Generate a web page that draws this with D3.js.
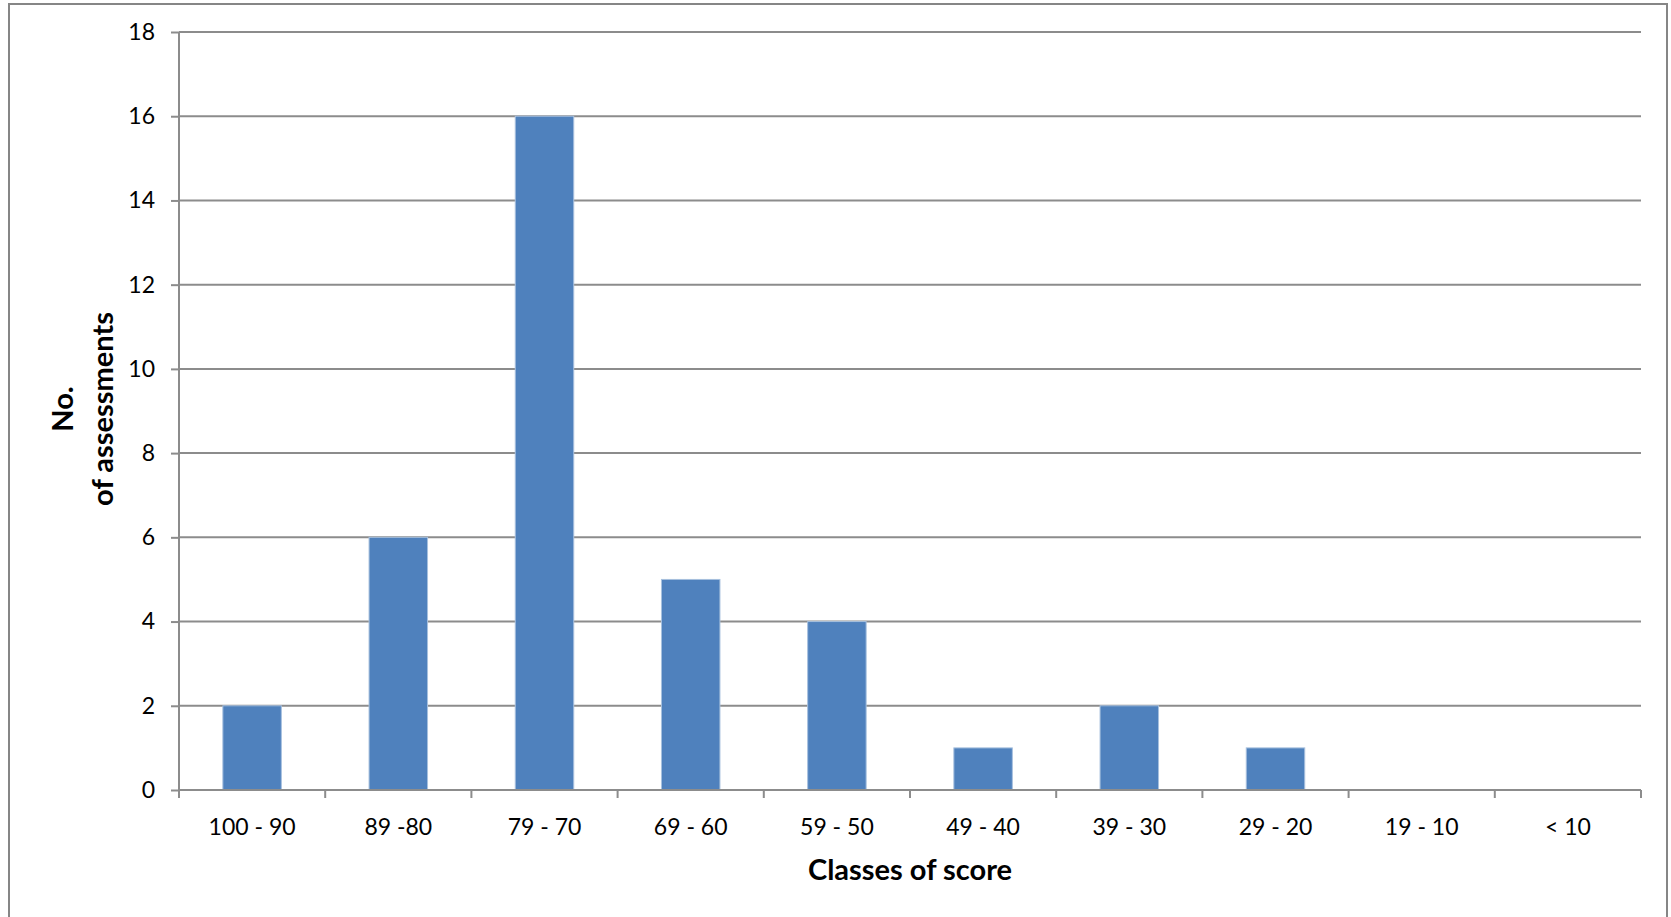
<!DOCTYPE html>
<html>
<head>
<meta charset="utf-8">
<script src="https://cdn.jsdelivr.net/npm/d3@7"></script>
<style>
  html, body { margin: 0; padding: 0; background: #fff; }
  svg { display: block; }
  text { font-family: Lato, "Open Sans", sans-serif; fill: #000; }
</style>
</head>
<body>
<svg id="chart" width="1671" height="917"></svg>
<script>
const categories = ["100 - 90", "89 -80", "79 - 70", "69 - 60", "59 - 50", "49 - 40", "39 - 30", "29 - 20", "19 - 10", "< 10"];
const values = [2, 6, 16, 5, 4, 1, 2, 1, 0, 0];
const yTicks = [0, 2, 4, 6, 8, 10, 12, 14, 16, 18];
const xTitle = "Classes of score";
const yTitleLines = ["No.", "of assessments"];

const svg = d3.select("#chart");
const W = 1671, H = 917;
const m = { left: 179, right: 1641, top: 32, bottom: 790 };

// outer frame
svg.append("rect")
  .attr("x", 9).attr("y", 4)
  .attr("width", 1667 - 9).attr("height", H + 10)
  .attr("fill", "#fff").attr("stroke", "#868686").attr("stroke-width", 2);

const x = d3.scaleBand().domain(categories).range([m.left, m.right]).paddingInner(0.6).paddingOuter(0.3);
const xOuter = d3.scaleBand().domain(categories).range([m.left, m.right]);
const y = d3.scaleLinear().domain([0, 18]).range([m.bottom, m.top]);

// gridlines
svg.append("g").selectAll("line").data(yTicks.filter(d => d > 0)).join("line")
  .attr("x1", m.left).attr("x2", m.right)
  .attr("y1", d => y(d)).attr("y2", d => y(d))
  .attr("stroke", "#8c8c8c").attr("stroke-width", 2);

// bars
svg.append("g").selectAll("rect").data(values).join("rect")
  .attr("x", (d, i) => x(categories[i]))
  .attr("width", x.bandwidth())
  .attr("y", d => y(d))
  .attr("height", d => y(0) - y(d))
  .attr("fill", "#4F81BD")
  .attr("stroke", "#A7C0DE").attr("stroke-width", 1);

// y axis
const yAxis = d3.axisLeft(y).tickValues(yTicks).tickSize(8).tickPadding(16).tickFormat(d3.format("d"));
const gy = svg.append("g").attr("transform", `translate(${m.left},0)`).call(yAxis);
gy.select(".domain").attr("stroke", "#8c8c8c").attr("stroke-width", 2).attr("d", `M0,${m.top}V${m.bottom}`);
gy.selectAll(".tick line").attr("stroke", "#8c8c8c").attr("stroke-width", 2);
gy.selectAll(".tick text").style("font-size", "23px").style("font-family", "Lato, sans-serif").attr("fill", "#000");

// x axis
const gx = svg.append("g").attr("transform", `translate(0,${m.bottom})`);
gx.append("line").attr("x1", m.left).attr("x2", m.right).attr("y1", 0).attr("y2", 0)
  .attr("stroke", "#8c8c8c").attr("stroke-width", 2);
const bounds = categories.map(c => xOuter(c)).concat([m.right]);
gx.selectAll("line.tk").data(bounds).join("line").attr("class", "tk")
  .attr("x1", d => d).attr("x2", d => d).attr("y1", 0).attr("y2", 8)
  .attr("stroke", "#8c8c8c").attr("stroke-width", 2);
gx.selectAll("text").data(categories).join("text")
  .attr("x", d => xOuter(d) + xOuter.bandwidth() / 2)
  .attr("y", 45)
  .attr("text-anchor", "middle")
  .style("font-size", "23px")
  .text(d => d);

// axis titles
svg.append("text")
  .attr("x", (m.left + m.right) / 2 - 0).attr("y", 880)
  .attr("text-anchor", "middle")
  .style("font-size", "29px").style("font-weight", "bold")
  .text(xTitle);

const yt = svg.append("text")
  .attr("transform", `translate(73,${(m.top + m.bottom) / 2 - 2}) rotate(-90)`)
  .attr("text-anchor", "middle")
  .style("font-size", "29px").style("font-weight", "bold");
yTitleLines.forEach((t, i) => {
  yt.append("tspan").attr("x", 0).attr("dy", i === 0 ? 0 : 40).text(t);
});
</script>
</body>
</html>
